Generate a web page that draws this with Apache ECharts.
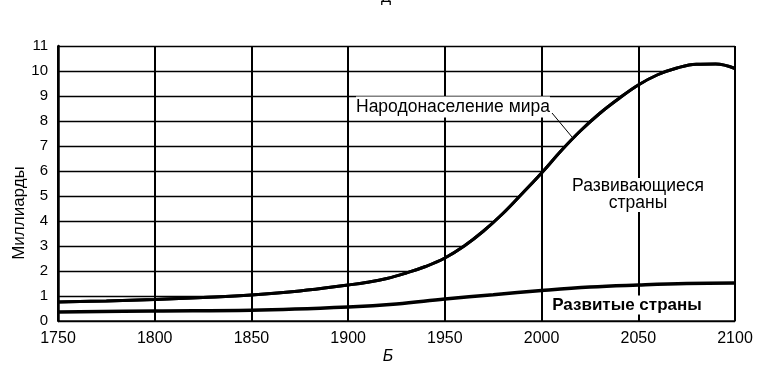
<!DOCTYPE html>
<html>
<head>
<meta charset="utf-8">
<script src="https://cdn.jsdelivr.net/npm/echarts@6/dist/echarts.min.js"></script>
<style>html,body{margin:0;padding:0;background:#fff;}#c{width:775px;height:388px;}</style>
</head>
<body>
<div id="c"></div>
<script>
// Data
var worldYears = [1750,1775,1800,1825,1850,1875,1900,1910,1920,1930,1940,1950,1960,1970,1980,1990,2000,2010,2020,2030,2040,2050,2060,2070,2080,2090,2100];
var worldPop   = [0.76,0.8,0.86,0.94,1.04,1.2,1.44,1.55,1.7,1.92,2.18,2.52,3.0,3.6,4.3,5.1,5.92,6.8,7.6,8.3,8.9,9.44,9.85,10.12,10.27,10.28,10.1];
var devYears   = [1750,1800,1850,1900,1925,1950,1975,2000,2025,2050,2075,2100];
var devPop     = [0.36,0.4,0.43,0.56,0.68,0.88,1.05,1.22,1.36,1.44,1.5,1.52];
var xTicks = [1750,1800,1850,1900,1950,2000,2050,2100];
var yTicks = [0,1,2,3,4,5,6,7,8,9,10,11];

function pairs(xs, ys){ return xs.map(function(x,i){ return [x, ys[i]]; }); }

var FONT = 'Liberation Sans, Arial, sans-serif';
var chart = echarts.init(document.getElementById('c'), null, {renderer:'canvas'});
chart.setOption({
  animation: false,
  backgroundColor: '#fff',
  grid: {left: 58, right: 40, top: 46, bottom: 67},
  xAxis: {
    type: 'value', min: xTicks[0], max: xTicks[xTicks.length-1], interval: 50, z: 3,
    axisLine: {lineStyle: {color: '#000', width: 1.5}},
    axisTick: {show: false},
    axisLabel: {color: '#000', fontSize: 16, fontFamily: FONT, margin: 10,
      formatter: function(v){ return String(v); }},
    splitLine: {show: true, lineStyle: {color: '#000', width: 2}}
  },
  yAxis: [{
    type: 'value', min: yTicks[0], max: yTicks[yTicks.length-1], interval: 1,
    axisLine: {show: false},
    axisTick: {show: false},
    axisLabel: {color: '#000', fontSize: 15, fontFamily: FONT, margin: 10},
    splitLine: {show: true, lineStyle: {color: '#000', width: 1.3}}
  }, {
    type: 'value', min: yTicks[0], max: yTicks[yTicks.length-1], interval: 1, position: 'left', z: 4,
    axisLine: {show: true, lineStyle: {color: '#000', width: 2.5}},
    axisTick: {show: false}, axisLabel: {show: false}, splitLine: {show: false}
  }],
  series: [
    {type: 'line', data: pairs(worldYears, worldPop), smooth: 0.4, showSymbol: false,
     lineStyle: {color: '#000', width: 3}, areaStyle: {color: '#fff', opacity: 1}, z: 2},
    {type: 'line', data: pairs(worldYears, worldPop), smooth: 0.4, showSymbol: false,
     lineStyle: {color: '#000', width: 3}, z: 5},
    {type: 'line', data: pairs(devYears, devPop), smooth: 0.4, showSymbol: false,
     lineStyle: {color: '#000', width: 3.5}, z: 5}
  ],
  graphic: [
    {type: 'text', left: 381, top: -10, style: {text: 'Д', fontSize: 15, fontFamily: FONT, fill: '#000'}},
    {type: 'text', x: 19, y: 213, rotation: Math.PI/2, style: {text: 'Миллиарды', fontSize: 17, fontFamily: FONT, fill: '#000', align: 'center', verticalAlign: 'middle'}},
    {type: 'text', x: 388, y: 357, style: {text: 'Б', fontSize: 16, fontStyle: 'italic', fontFamily: FONT, fill: '#000', align: 'center', verticalAlign: 'middle'}},
    {type: 'text', x: 356, y: 107, z: 10, style: {text: 'Народонаселение мира', fontSize: 17.5, fontFamily: FONT, fill: '#000', align: 'left', verticalAlign: 'middle', backgroundColor: '#fff', padding: [2,0,1,0]}},
    {type: 'line', z: 10, shape: {x1: 552, y1: 113, x2: 572, y2: 137}, style: {stroke: '#000', lineWidth: 1}},
    {type: 'text', x: 638, y: 195, z: 10, style: {text: 'Развивающиеся\nстраны', fontSize: 17.5, lineHeight: 17, fontFamily: FONT, fill: '#000', align: 'center', verticalAlign: 'middle', backgroundColor: '#fff'}},
    {type: 'text', x: 627, y: 305, z: 10, style: {text: 'Развитые страны', fontSize: 17, fontWeight: 'bold', fontFamily: FONT, fill: '#000', align: 'center', verticalAlign: 'middle', backgroundColor: '#fff', padding: [1,2,1,2]}}
  ]
});
</script>
</body>
</html>
